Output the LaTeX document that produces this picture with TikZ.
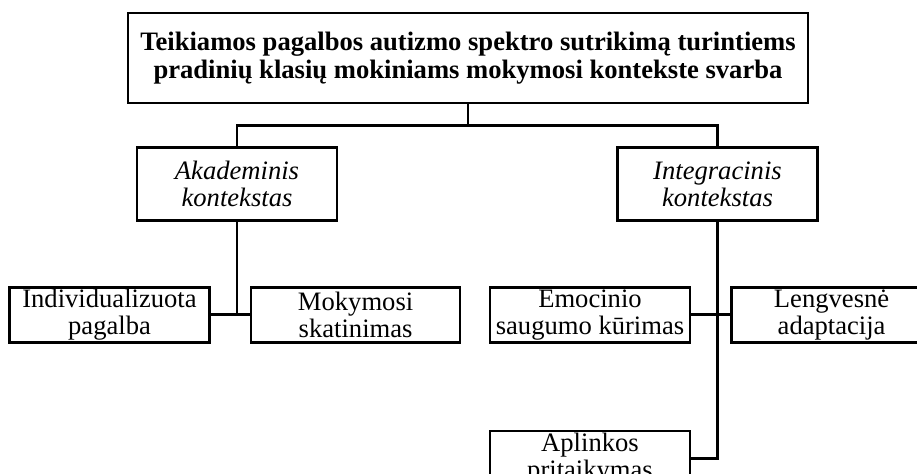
\documentclass[tikz,border=0pt]{standalone}
\usepackage{fontspec}
\setmainfont{Liberation Serif}
\usetikzlibrary{positioning}

\begin{document}
\begin{tikzpicture}[
  x=0.5pt,y=0.5pt,line width=1.3pt,
  box/.style={draw,align=center,inner sep=0pt,
              minimum width=100pt,minimum height=27.5pt,
              font=\fontsize{13.3}{13.5}\selectfont},
  ctx/.style={box,minimum height=36.5pt,font=\fontsize{13.3}{13.5}\selectfont\itshape},
  head/.style={box,minimum width=340pt,minimum height=45pt,
               font=\fontsize{13.3}{14}\selectfont\bfseries}
]
  \path[use as bounding box,clip] (0,0) rectangle (917,-473);
  \node[head] (top) at (468,-58) {Teikiamos pagalbos autizmo spektro sutrikimą turintiems\\pradinių klasių mokiniams mokymosi kontekste svarba};
  \node[ctx,below=21pt of top,xshift=-115.5pt] (akad) {Akademinis\\kontekstas};
  \node[ctx,below=21pt of top,xshift=124.75pt] (integ) {Integracinis\\kontekstas};
  \node[box,below=32pt of akad,xshift=-63.75pt] (indiv) {Individualizuota\\pagalba};
  \node[box,right=19.5pt of indiv,minimum width=104.5pt] (skat) {Mokymosi\\skatinimas};
  \node[box,below=32pt of integ,xshift=-63.75pt] (emoc) {Emocinio\\saugumo kūrimas};
  \node[box,right=19.5pt of emoc] (adapt) {Lengvesnė\\adaptacija};
  \node[box,below=43pt of emoc] (aplink) {Aplinkos\\pritaikymas};
  \draw (top.south) -- ++(0,-10.5pt) coordinate (fork);
  \draw (akad.north) |- (fork) -| (integ.north);
  \draw (akad.south) -- (akad.south |- indiv.east);
  \draw (indiv.east) -- (skat.west);
  \draw (emoc.east) -- (adapt.west);
  \draw (integ.south) |- (aplink.east);
\end{tikzpicture}
\end{document}
